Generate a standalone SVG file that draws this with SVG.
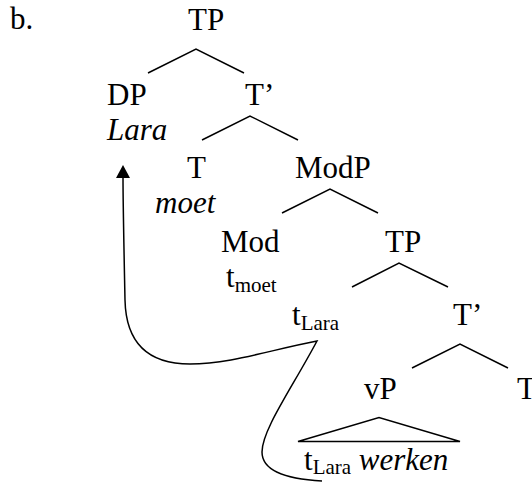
<svg xmlns="http://www.w3.org/2000/svg" width="532" height="482" viewBox="0 0 532 482" font-family="'Liberation Serif', 'Times New Roman', Tinos, 'DejaVu Serif', serif">
<style>
text{font-size:31px;fill:#000}
.i{font-style:italic}
.s{font-size:21px}
.br{fill:none;stroke:#000;stroke-width:1.5}
.mv{fill:none;stroke:#000;stroke-width:1.5}
</style>
<defs>
<marker id="ah" viewBox="0 0 14 14" refX="1" refY="7" markerWidth="14" markerHeight="14" markerUnits="userSpaceOnUse" orient="auto">
<path d="M0,0 L13,7 L0,14 Z" fill="#000"/>
</marker>
</defs>
<rect width="532" height="482" fill="#fff"/>
<text x="10" y="29">b.</text>
<g id="connectors">
<polyline class="br" points="148,73 196,49 244,73"/>
<polyline class="br" points="202,140 250,116 298,140"/>
<polyline class="br" points="282,213 330,189 378,213"/>
<polyline class="br" points="352,287 399,263 448,287"/>
<polyline class="br" points="412,368 460,344 508,368"/>
<polygon class="br" points="298,441.5 379,417.5 460,441.5"/>
<path class="mv" marker-end="url(#ah)" d="M322,481 C285,479 262,470 262,452 C262,430 292,388 317,341 C270,350 230,364 190,364 C150,364 126,345 125,300 C124,250 123,205 123,177"/>
</g>
<g id="TP1"><text x="188" y="30">TP</text></g>
<g id="DP"><text x="107" y="105">DP</text><text class="i" x="107" y="140">Lara</text></g>
<g id="Tbar1"><text x="245" y="105">T’</text></g>
<g id="T1"><text x="187" y="178">T</text><text class="i" x="155" y="213">moet</text></g>
<g id="ModP"><text x="295" y="178">ModP</text></g>
<g id="Mod"><text x="221" y="252">Mod</text><text x="226" y="287">t<tspan class="s" dy="5">moet</tspan></text></g>
<g id="TP2"><text x="385" y="252">TP</text></g>
<g id="tLara1"><text x="292" y="325">t<tspan class="s" dy="5">Lara</tspan></text></g>
<g id="Tbar2"><text x="453" y="325">T’</text></g>
<g id="vP"><text x="364" y="399">vP</text></g>
<g id="T2"><text x="517" y="399">T</text></g>
<g id="vPcontent"><text x="304" y="470">t<tspan class="s" dy="4">Lara</tspan><tspan class="i" dy="-4"> werken</tspan></text></g>
</svg>
